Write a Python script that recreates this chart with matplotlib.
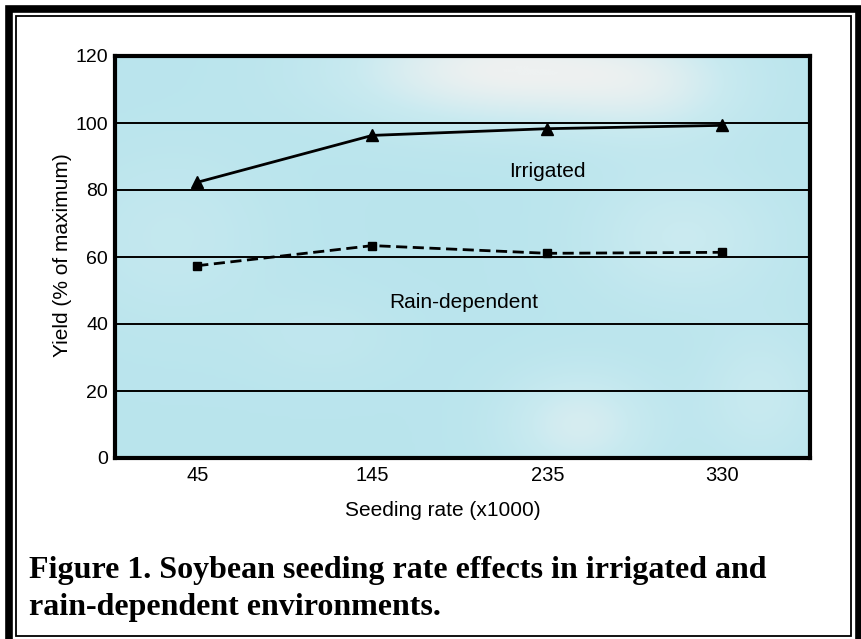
import numpy as np
import matplotlib
matplotlib.use("Agg")
import matplotlib.pyplot as plt
from matplotlib.patches import Rectangle
from matplotlib.colors import LinearSegmentedColormap

# ---- data ----
seeding_rates = ["45", "145", "235", "330"]
irrigated = [82.3, 96.3, 98.3, 99.3]
rain_dependent = [57.4, 63.4, 61.1, 61.4]
y_ticks = [0, 20, 40, 60, 80, 100, 120]
caption_lines = ["Figure 1. Soybean seeding rate effects in irrigated and",
                 "rain-dependent environments."]

W, H = 861, 639
fig = plt.figure(figsize=(W / 100, H / 100), dpi=100)
fig.patch.set_facecolor("white")

def px_rect(x0, y0, x1, y1, lw, color="black"):
    fig.patches.append(Rectangle((x0 / W, 1 - y1 / H), (x1 - x0) / W, (y1 - y0) / H,
                                 transform=fig.transFigure, fill=False,
                                 linewidth=lw, edgecolor=color, zorder=10))

px_rect(9, 8.5, 858.5, 641, 5.5)
px_rect(16, 16, 851, 636, 1.3)

# axes
ax = fig.add_axes([115 / W, 1 - 458 / H, (810 - 115) / W, (458 - 56) / H])
x = np.arange(len(seeding_rates))
XL = (-0.47, 3.5)
ax.set_xlim(*XL)
ax.set_ylim(0, 120)

# soft background gradient (decorative)
cmap = LinearSegmentedColormap.from_list("bg", ["#b5e3ec", "#c9eaf0", "#eef1f1"])
gx = np.linspace(0, 1, 240)
gy = np.linspace(0, 1, 140)
GX, GY = np.meshgrid(gx, gy)
def blob(cx, cy, sx, sy, a):
    return a * np.exp(-((GX - cx) ** 2 / (2 * sx ** 2) + (GY - cy) ** 2 / (2 * sy ** 2)))
field = (0.12
         + blob(0.55, 0.97, 0.16, 0.10, 0.85)
         + blob(0.78, 0.93, 0.10, 0.10, 0.45)
         + blob(0.82, 0.55, 0.10, 0.12, 0.40)
         + blob(0.67, 0.08, 0.08, 0.10, 0.55)
         + blob(0.93, 0.15, 0.06, 0.12, 0.35)
         + blob(0.08, 0.55, 0.10, 0.15, 0.25)
         + blob(0.30, 0.30, 0.08, 0.08, 0.15))
field = np.clip(field, 0, 1)
ax.imshow(field, cmap=cmap, aspect="auto", extent=(XL[0], XL[1], 0, 120),
          origin="lower", zorder=0, vmin=0, vmax=1, interpolation="bicubic")

for yv in y_ticks[1:-1]:
    ax.axhline(yv, color="black", linewidth=1.4, zorder=1)

ax.plot(x, irrigated, color="black", linewidth=2.0, marker="^", markersize=8, zorder=3)
ax.plot(x, rain_dependent, color="black", linewidth=2.0, linestyle=(0, (4, 2)),
        marker="s", markersize=6, zorder=3)

ax.text(2.0, 85.5, "Irrigated", fontsize=15, ha="center", va="center",
        family="Liberation Sans", zorder=4)
ax.text(1.52, 46.5, "Rain-dependent", fontsize=15, ha="center", va="center",
        family="Liberation Sans", zorder=4)

ax.set_xticks(x)
ax.set_xticklabels(seeding_rates, family="Liberation Sans", fontsize=14.5)
ax.set_yticks(y_ticks)
ax.set_yticklabels([str(v) for v in y_ticks], family="Liberation Sans", fontsize=14)
ax.tick_params(axis="both", length=0)
ax.tick_params(axis="x", pad=6)
ax.tick_params(axis="y", pad=5)
for s in ax.spines.values():
    s.set_linewidth(3)
    s.set_color("black")
    s.set_zorder(5)

fig.text(443 / W, 1 - 510 / H, "Seeding rate (x1000)", ha="center", va="center",
         fontsize=15, family="Liberation Sans")
fig.text(62 / W, 1 - 255 / H, "Yield (% of maximum)", ha="center", va="center",
         rotation=90, fontsize=15, family="Liberation Sans")

fig.text(29 / W, 1 - 578 / H, caption_lines[0], ha="left", va="baseline", fontsize=23,
         family="Liberation Serif", fontweight="bold")
fig.text(29 / W, 1 - 615 / H, caption_lines[1], ha="left", va="baseline", fontsize=23,
         family="Liberation Serif", fontweight="bold")

fig.savefig("out.png", dpi=100)
